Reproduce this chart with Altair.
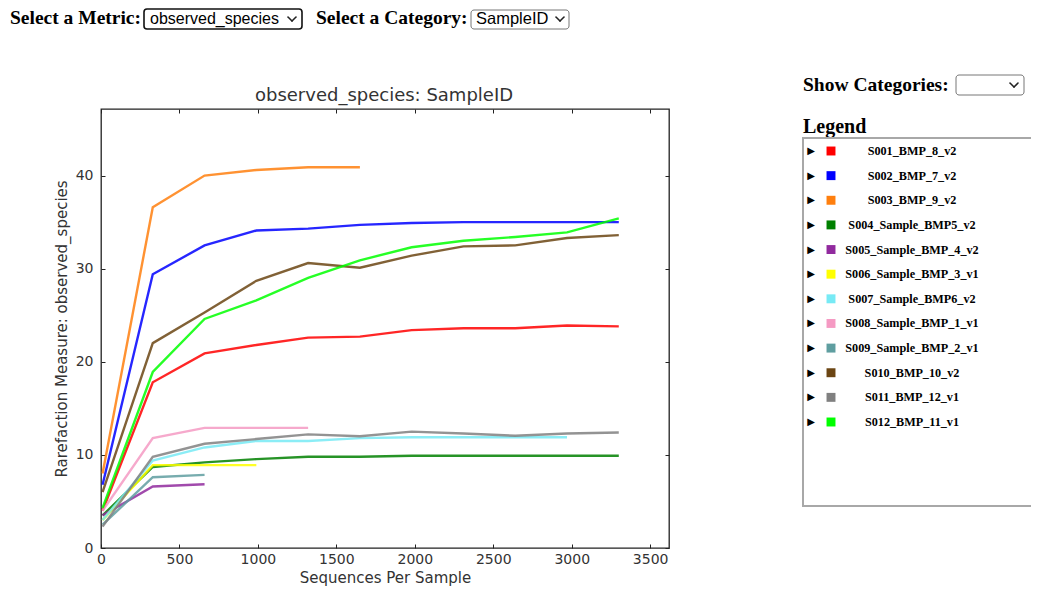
import altair as alt
import pandas as pd

# ---------------- data ----------------
categories = [
    "S001_BMP_8_v2", "S002_BMP_7_v2", "S003_BMP_9_v2", "S004_Sample_BMP5_v2",
    "S005_Sample_BMP_4_v2", "S006_Sample_BMP_3_v1", "S007_Sample_BMP6_v2",
    "S008_Sample_BMP_1_v1", "S009_Sample_BMP_2_v1", "S010_BMP_10_v2",
    "S011_BMP_12_v1", "S012_BMP_11_v1",
]
colors = [
    "#ff0000", "#0000ff", "#ff7f0e", "#008000", "#912a9e", "#ffff00",
    "#77eaf5", "#f59ac3", "#5f9ea0", "#6b4513", "#808080", "#00ff00",
]
seqs = [10, 330, 660, 990, 1320, 1650, 1980, 2310, 2640, 2970, 3300]

s001 = [4.0, 17.8, 20.9, 21.8, 22.6, 22.7, 23.4, 23.6, 23.6, 23.9, 23.8]
s002 = [6.8, 29.4, 32.5, 34.1, 34.3, 34.7, 34.9, 35.0, 35.0, 35.0, 35.0]
s003 = [8.0, 36.6, 40.0, 40.6, 40.9, 40.9]
s004 = [3.5, 8.7, 9.2, 9.55, 9.8, 9.8, 9.9, 9.9, 9.9, 9.9, 9.9]
s005 = [3.5, 6.6, 6.85]
s006 = [3.0, 8.9, 8.9, 8.9]
s007 = [3.0, 9.4, 10.8, 11.5, 11.5, 11.8, 11.9, 11.9, 11.9, 11.9]
s008 = [4.0, 11.8, 12.9, 12.9, 12.9]
s009 = [2.5, 7.6, 7.85]
s010 = [6.0, 22.0, 25.3, 28.7, 30.6, 30.1, 31.4, 32.4, 32.5, 33.3, 33.6]
s011 = [2.3, 9.8, 11.2, 11.7, 12.2, 12.0, 12.5, 12.3, 12.05, 12.3, 12.4]
s012 = [4.3, 18.9, 24.6, 26.6, 29.0, 30.9, 32.3, 33.0, 33.4, 33.9, 35.4]

series = [s001, s002, s003, s004, s005, s006, s007, s008, s009, s010, s011, s012]

x_ticks = [0, 500, 1000, 1500, 2000, 2500, 3000, 3500]
y_ticks = [0, 10, 20, 30, 40]

metric_label = "observed_species"
category_label = "SampleID"

rows = []
for i, (cat, vals) in enumerate(zip(categories, series)):
    for s, v in zip(seqs, vals):
        rows.append({"SampleID": cat, "order": i, "seqs": s, "value": v})
df = pd.DataFrame(rows)
legend_df = pd.DataFrame({"SampleID": categories})
one = pd.DataFrame({"a": [0]})

# ---------------- scales / axes ----------------
W, H = 568, 439
xs = alt.Scale(domain=[0, 3620], nice=False, zero=False)
ys = alt.Scale(domain=[0, 47.15], nice=False, zero=False)
cs = alt.Scale(domain=categories, range=colors)

SANS = "DejaVu Sans"
SERIF = "Liberation Serif"
AXC = "#333333"

x_axis = alt.Axis(values=x_ticks, format="d", grid=False, domain=False, offset=-4,
                  tickSize=4, tickColor="#222", tickWidth=1, labelFont=SANS,
                  labelFontSize=14, labelColor=AXC, labelPadding=4, labelFlush=False,
                  title="Sequences Per Sample", titleFont=SANS, titleFontSize=15,
                  titleFontWeight="normal", titleColor=AXC, titlePadding=4)
y_axis = alt.Axis(values=y_ticks, format="d", grid=False, domain=False, offset=-4,
                  tickSize=4, tickColor="#222", tickWidth=1, labelFont=SANS,
                  labelFontSize=14, labelColor=AXC, labelPadding=8, labelFlush=False,
                  title="Rarefaction Measure: " + metric_label,
                  titleFont=SANS, titleFontSize=15, titleFontWeight="normal",
                  titleColor=AXC, titlePadding=6)
x_axis_top = alt.Axis(values=x_ticks, grid=False, domain=False, offset=-4, tickSize=4,
                      tickColor="#222", labels=False, title=None, orient="top")
y_axis_right = alt.Axis(values=y_ticks, grid=False, domain=False, offset=-4, tickSize=4,
                        tickColor="#222", labels=False, title=None, orient="right")

lines = alt.Chart(df).mark_line(strokeWidth=2.4, opacity=0.85).encode(
    x=alt.X("seqs:Q", scale=xs, axis=x_axis),
    y=alt.Y("value:Q", scale=ys, axis=y_axis),
    color=alt.Color("SampleID:N", scale=cs, legend=None),
    detail="SampleID:N",
    order="seqs:Q",
)
mirror = alt.Chart(df).mark_line(opacity=0).encode(
    x=alt.X("seqs:Q", scale=xs, axis=x_axis_top),
    y=alt.Y("value:Q", scale=ys, axis=y_axis_right),
    detail="SampleID:N",
)


# ---------------- page furniture (HTML controls recreated) ----------------
def txt(text, x, y, font=SERIF, size=19.5, weight="bold", color="#000", align="left"):
    return alt.Chart(one).mark_text(text=text, font=font, fontSize=size, fontWeight=weight,
                                    color=color, align=align, baseline="middle").encode(
        x=alt.value(x), y=alt.value(y))


def box(x, x2, y, y2, stroke="#767676", sw=1, radius=3):
    return alt.Chart(one).mark_rect(fill="white", stroke=stroke, strokeWidth=sw,
                                    cornerRadius=radius).encode(
        x=alt.value(x), x2=alt.value(x2), y=alt.value(y), y2=alt.value(y2))


def chevron(cx, cy):
    segs = []
    for (a, b) in [((cx - 4, cy - 2), (cx, cy + 2)), ((cx, cy + 2), (cx + 4, cy - 2))]:
        segs.append(alt.Chart(one).mark_rule(color="#222", strokeWidth=1.6,
                                             strokeCap="round").encode(
            x=alt.value(a[0]), y=alt.value(a[1]), x2=alt.value(b[0]), y2=alt.value(b[1])))
    return segs


ui = [
    txt(metric_label + ": " + category_label, 283, -13, font=SANS, size=18,
        weight="normal", color=AXC, align="center"),
    txt("Select a Metric:", -91, -91),
    box(43, 201, -100, -80, stroke="#111", sw=1.6),
    txt(metric_label, 49, -90, font="Liberation Sans", size=16, weight="normal"),
    *chevron(191, -90),
    txt("Select a Category:", 215, -91),
    box(370, 468, -99, -80),
    txt(category_label, 375, -90, font="Liberation Sans", size=16.5, weight="normal"),
    *chevron(459, -90),
    txt("Show Categories:", 702, -24),
    box(855, 923, -34, -14),
    *chevron(913, -24),
    txt("Legend", 702, 18, size=20),
    box(702, 945, 29, 397, stroke="#a8a8a8", sw=2, radius=0),
]

ly = alt.Scale(domain=categories, range=[42, 313], padding=0)
leg_tri = alt.Chart(legend_df).mark_text(text="\u25b6", font=SANS, fontSize=10,
                                         color="#000", baseline="middle").encode(
    x=alt.value(710), y=alt.Y("SampleID:N", scale=ly, axis=None, sort=categories))
leg_sq = alt.Chart(legend_df).mark_square(size=80, opacity=1).encode(
    x=alt.value(730), y=alt.Y("SampleID:N", scale=ly, axis=None, sort=categories),
    color=alt.Color("SampleID:N", scale=cs, legend=None))
leg_txt = alt.Chart(legend_df).mark_text(font=SERIF, fontSize=12.2, fontWeight="bold",
                                         color="#000", align="center",
                                         baseline="middle").encode(
    x=alt.value(811), y=alt.Y("SampleID:N", scale=ly, axis=None, sort=categories),
    text="SampleID:N")

chart = alt.layer(lines, mirror, *ui, leg_tri, leg_sq, leg_txt).resolve_scale(
    y="independent").resolve_axis(x="independent", y="independent").properties(
    width=W, height=H,
    autosize=alt.AutoSizeParams(type="none"),
    padding={"left": 93, "top": 101, "right": 362, "bottom": 38},
).configure_view(stroke="#222", strokeWidth=1.3)

chart.save("out.html", embed_options={"renderer": "svg", "actions": False})
